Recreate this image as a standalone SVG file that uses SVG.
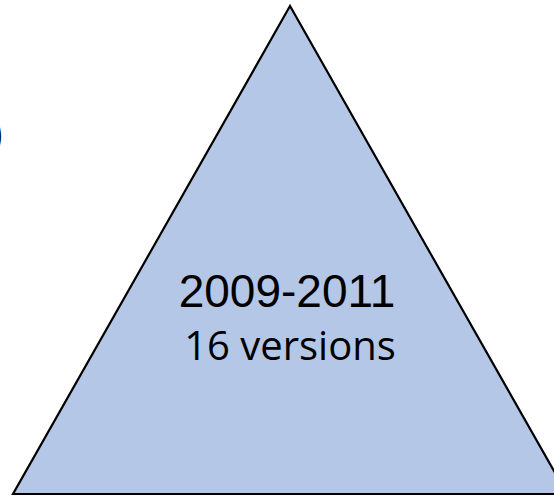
<svg xmlns="http://www.w3.org/2000/svg" width="554" height="497" viewBox="0 0 554 497">
  <style>
    .tri { fill: #B4C7E7; stroke: #000000; stroke-width: 2.2; stroke-linejoin: miter; }
    .lbl { fill: #000000; text-anchor: middle; }
  </style>
  <rect x="0" y="0" width="554" height="497" fill="#FFFFFF"/>
  <text x="-11" y="148" font-family="Liberation Sans, Arial, sans-serif" font-size="44" fill="#000000">)</text>
  <g id="triangle">
    <polygon class="tri" points="290,6 13,494 567,494"/>
    <text class="lbl" x="287" y="307" font-family="Liberation Sans, Arial, sans-serif" font-size="46">2009-2011</text>
    <text class="lbl" x="290" y="360" font-family="Open Sans, Liberation Sans, sans-serif" font-size="40">16 versions</text>
  </g>
</svg>
